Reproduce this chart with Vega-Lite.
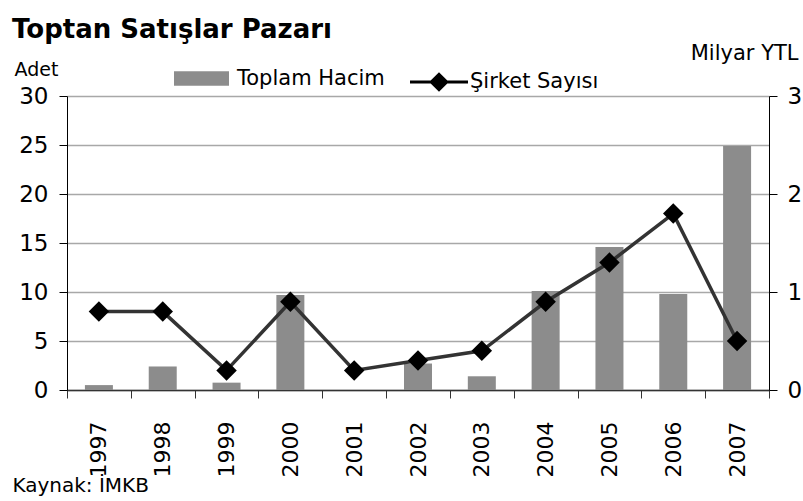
{
  "$schema": "https://vega.github.io/schema/vega-lite/v6.json",
  "autosize": "none",
  "width": 702,
  "height": 294,
  "padding": {"left": 67, "top": 96, "right": 34, "bottom": 111},
  "background": "white",
  "config": {
    "font": "DejaVu Sans",
    "view": {"stroke": null},
    "axis": {"labelColor": "black", "titleColor": "black", "labelFont": "DejaVu Sans", "titleFont": "DejaVu Sans"},
    "legend": {"labelColor": "black", "labelFont": "DejaVu Sans", "padding": 0}
  },
  "title": {
    "text": "Toptan Satışlar Pazarı",
    "anchor": "start",
    "frame": "group",
    "fontSize": 26,
    "fontWeight": "bold",
    "color": "black",
    "dx": -55,
    "dy": 1,
    "offset": 0
  },
  "data": {
    "values": [
      {"yil": "1997", "hacim": 0.05, "sirket": 8},
      {"yil": "1998", "hacim": 0.24, "sirket": 8},
      {"yil": "1999", "hacim": 0.075, "sirket": 2},
      {"yil": "2000", "hacim": 0.97, "sirket": 9},
      {"yil": "2001", "hacim": 0, "sirket": 2},
      {"yil": "2002", "hacim": 0.27, "sirket": 3},
      {"yil": "2003", "hacim": 0.14, "sirket": 4},
      {"yil": "2004", "hacim": 1.01, "sirket": 9},
      {"yil": "2005", "hacim": 1.46, "sirket": 13},
      {"yil": "2006", "hacim": 0.98, "sirket": 18},
      {"yil": "2007", "hacim": 2.49, "sirket": 5}
    ]
  },
  "encoding": {
    "x": {
      "field": "yil",
      "type": "nominal",
      "sort": null,
      "scale": {"paddingInner": 0, "paddingOuter": 0},
      "axis": {
        "tickBand": "extent",
        "labelAngle": -90,
        "labelAlign": "right",
        "labelBaseline": "middle",
        "labelFontSize": 22,
        "labelPadding": 23,
        "tickSize": 8,
        "tickColor": "#333",
        "domainColor": "#333",
        "domainWidth": 1.5,
        "title": "Kaynak: İMKB",
        "titleX": -55,
        "titleY": 101,
        "titleAlign": "left",
        "titleBaseline": "alphabetic",
        "titleAngle": 0,
        "titleFontSize": 20,
        "titleFontWeight": "normal"
      }
    }
  },
  "layer": [
    {
      "mark": {"type": "bar", "width": 28},
      "encoding": {
        "y": {
          "field": "hacim",
          "type": "quantitative",
          "scale": {"domain": [0, 3], "nice": false},
          "axis": {
            "orient": "right",
            "values": [0, 1, 2, 3],
            "grid": false,
            "tickSize": 8,
            "tickColor": "black",
            "domainColor": "black",
            "labelFontSize": 23,
            "labelPadding": 10,
            "title": "Milyar YTL",
            "titleAngle": 0,
            "titleAlign": "right",
            "titleBaseline": "alphabetic",
            "titleX": 29,
            "titleY": -37,
            "titleFontSize": 21,
            "titleFontWeight": "normal"
          }
        },
        "color": {
          "datum": "Toplam Hacim",
          "scale": {"domain": ["Toplam Hacim"], "range": ["#8c8c8c"]},
          "legend": {
            "title": null,
            "orient": "none",
            "legendX": 107,
            "legendY": -45,
            "symbolType": "M-1,-0.26H1V0.26H-1Z",
            "symbolSize": 3025,
            "symbolStrokeWidth": 0,
            "labelFontSize": 21,
            "labelOffset": 8
          }
        }
      }
    },
    {
      "layer": [
        {
          "mark": {"type": "line", "color": "#333333", "strokeWidth": 3.5},
          "encoding": {
            "y": {
              "field": "sirket",
              "type": "quantitative",
              "scale": {"domain": [0, 30], "nice": false},
              "axis": {
                "orient": "left",
                "values": [0, 5, 10, 15, 20, 25, 30],
                "grid": true,
                "gridColor": "#a8a8a8",
                "gridWidth": 1.5,
                "tickSize": 8,
                "tickColor": "black",
                "domainColor": "black",
                "labelFontSize": 23,
                "labelPadding": 11,
                "title": "Adet",
                "titleAngle": 0,
                "titleAlign": "left",
                "titleBaseline": "alphabetic",
                "titleX": -53,
                "titleY": -21,
                "titleFontSize": 19,
                "titleFontWeight": "normal"
              }
            }
          }
        },
        {
          "mark": {"type": "point", "shape": "diamond", "size": 420, "filled": true, "opacity": 1},
          "encoding": {
            "y": {"field": "sirket", "type": "quantitative"},
            "color": {
              "datum": "Şirket Sayısı",
              "scale": {"domain": ["Şirket Sayısı"], "range": ["#000000"]},
              "legend": {
                "title": null,
                "orient": "none",
                "legendX": 343,
                "legendY": -43,
                "symbolType": "M-1,-0.05H1V0.05H-1Z M0,-0.34L0.34,0L0,0.34L-0.34,0Z",
                "symbolSize": 3364,
                "symbolStrokeWidth": 0,
                "symbolOpacity": 1,
                "labelFontSize": 21,
                "labelOffset": 2
              }
            }
          }
        }
      ]
    }
  ],
  "resolve": {"scale": {"y": "independent", "color": "independent"}}
}
